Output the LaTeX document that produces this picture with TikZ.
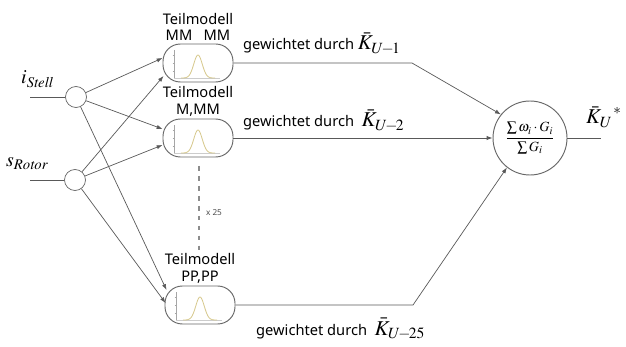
\documentclass[tikz,border=0pt]{standalone}
\usepackage{mathptmx}
\usepackage[no-math]{fontspec}
\setmainfont{Noto Sans}
\usetikzlibrary{positioning,arrows.meta,calc}

\definecolor{bellcol}{RGB}{214,200,140}
\tikzset{
  wire/.style={draw=black!65,line width=0.6pt},
  feed/.style={wire,-{Latex[length=5pt,width=3.6pt]}},
  inp/.style={circle,draw=black!60,line width=0.6pt,minimum size=0.63cm,inner sep=0pt},
  modbox/.style={draw=black!60,line width=0.8pt,rounded corners=0.52cm,minimum width=2.1cm,minimum height=1.14cm,inner sep=0pt},
  modlbl/.style={font=\fontsize{12.5}{14}\selectfont,align=center,inner sep=0pt},
  wlbl/.style={font=\fontsize{12.5}{14}\selectfont,inner sep=0pt,anchor=base west},
  bell/.pic={
    \draw[black!35,line width=0.4pt](-24,-13)--(-24,15);
    \foreach \t in {-8,0,8}\draw[black!35,line width=0.3pt](-25.5,\t)--(-24,\t);
    \draw[black!20,line width=0.3pt](-24,15)--(22,15);
    \draw[bellcol,line width=0.7pt,domain=-17:17,samples=41,smooth]plot(\x,{15-23*exp(-(\x*\x)/36)});
  }
}
\newcommand{\kval}[1]{{\fontsize{18}{18}\selectfont$\bar{K}_{#1}$}}

\begin{document}
\begin{tikzpicture}[x=0.03cm,y=-0.03cm]
  \useasboundingbox(0,0)rectangle(626,347);
  % inputs
  \node[inp](i)at(76,97){};
  \node[inp](s)at(75,180){};
  \coordinate(iin)at(30,97);\coordinate(sin)at(30,180);
  \draw[wire](iin)--(i);\draw[wire](sin)--(s);
  \node[anchor=base west,inner sep=0pt,font=\fontsize{17}{17}\selectfont](il)at(21,84){$i_{\mathit{Stell}}$};
  \node[anchor=base west,inner sep=0pt,font=\fontsize{17}{17}\selectfont](sl)at(6,167){$s_{\mathit{Rotor}}$};
  % sub models
  \node[modbox](m1)at(198,63){};
  \node[modbox](m2)at(198,138){};
  \node[modbox](m3)at(200,305){};
  \pic at(m1){bell};\pic at(m2){bell};\pic at(m3){bell};
  \node[modlbl,above=2pt of m1](t1){Teilmodell\\MM~~~MM};
  \node[modlbl,above=2pt of m2](t2){Teilmodell\\M,MM};
  \node[modlbl,above=2pt of m3](t3){Teilmodell\\PP,PP};
  % input to model arrows
  \draw[feed](i)--($(m1.west)+(0,-5)$);
  \draw[feed](s)--($(m1.west)+(1,13)$);
  \draw[feed](i)--($(m2.west)+(0,-9)$);
  \draw[feed](s)--($(m2.west)+(0,7)$);
  \draw[feed](i)--($(m3.west)+(2,-15)$);
  \draw[feed](s)--($(m3.west)+(1,-2)$);
  % repeat marker
  \coordinate(d1)at(199,166);\coordinate(d2)at(199,250);
  \draw[black!45,line width=1.1pt,dash pattern=on 4pt off 4.5pt](d1)--(d2);
  \node[font=\fontsize{7}{7}\selectfont,text=black!70](rep)at(214,213){x 25};
  % weighting
  \node[circle,draw=black!60,line width=0.8pt,minimum size=2.22cm,inner sep=0pt](sum)at(530,138)
    {\fontsize{12}{12}\selectfont$\displaystyle\frac{\sum\omega_i\cdot G_i}{\sum G_i}$};
  \coordinate(b1)at(412,63);\coordinate(b3)at(413,305);
  \draw[feed](m1.east)--(b1)--(sum.141);
  \draw[feed](m2)--(sum);
  \draw[feed](m3.east)--(b3)--(sum.232);
  \node[wlbl](w1)at(243,50){gewichtet durch \kval{U\!-\!1}};
  \node[wlbl](w2)at(243,127){gewichtet durch\ \ \kval{U\!-\!2}};
  \node[wlbl](w3)at(256,335){gewichtet durch\ \ \kval{U\!-\!25}};
  % output
  \coordinate(out)at(601,138);
  \draw[wire](sum)--(out);
  \node[anchor=base west,inner sep=0pt](ol)at(586,124){\kval{U}\hspace{1pt}\raisebox{8pt}{\fontsize{13}{13}\selectfont$*$}};
\end{tikzpicture}
\end{document}
